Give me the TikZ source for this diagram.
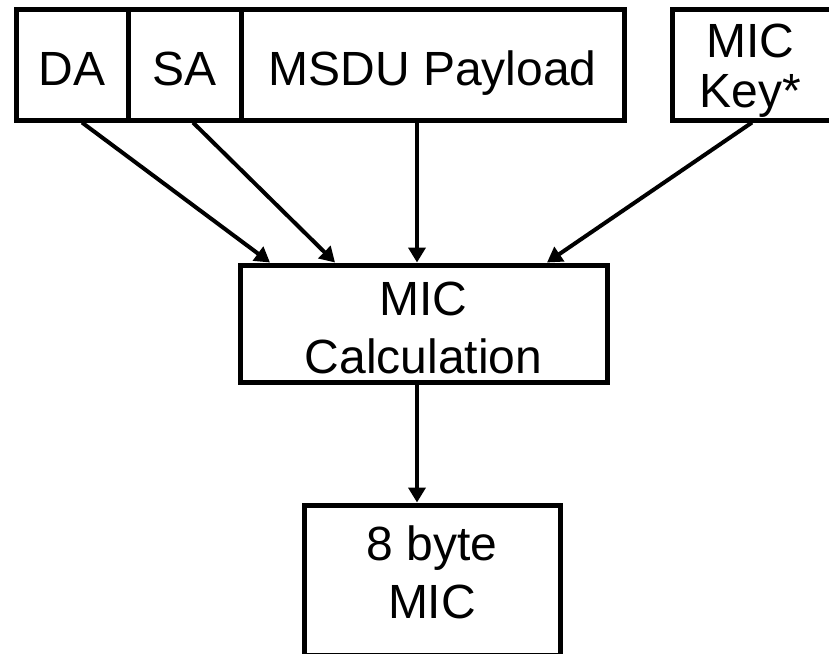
\documentclass[tikz,border=0pt]{standalone}
\usepackage{fontspec}
\setmainfont{Liberation Sans}
\usetikzlibrary{arrows.meta}
\newcommand{\twolines}[2]{\begin{tabular}[b]{@{}c@{}}#1\\#2\end{tabular}}
\begin{document}
\begin{tikzpicture}[x=1pt,y=-1pt,
  box/.style={draw=black,line width=5pt,rectangle,inner sep=0pt,text depth=0pt,
    font=\fontsize{48}{58}\selectfont},
  conn/.style={line width=4pt,-{Triangle[length=15pt,width=17pt]}}]
\useasboundingbox (0,0) rectangle (829,653);
\clip (0,0) rectangle (829,653);
\node[box,minimum width=112pt,minimum height=110.5pt,text height=40.5pt] (da) at (72,64.75) {DA};
\node[box,minimum width=113pt,minimum height=110.5pt,text height=40.5pt] (sa) at (184.5,64.75) {SA};
\node[box,minimum width=383pt,minimum height=110.5pt,text height=40.5pt] (msdu) at (432.5,64.75) {MSDU Payload};
\node[box,minimum width=168pt,minimum height=110.5pt,text height=84.5pt,font=\fontsize{48}{50}\selectfont] (key) at (756,64.75) {\twolines{MIC}{Key*}\hspace*{12pt}};
\node[box,minimum width=367pt,minimum height=117pt,text height=99pt] (calc) at (423.5,323.5) {\twolines{MIC}{Calculation}};
\node[box,minimum width=256pt,minimum height=150pt,text height=76pt] (mic) at (432,580) {\twolines{8 byte}{MIC}};
\draw[conn] ([xshift=10pt]da.south) -- ([xshift=-153.5pt]calc.north);
\draw[conn] ([xshift=8.5pt]sa.south) -- ([xshift=-88.5pt]calc.north);
\draw[conn] ([xshift=-15.5pt]msdu.south) -- ([xshift=-6.5pt]calc.north);
\draw[conn] ([xshift=-4pt]key.south) -- ([xshift=123.5pt]calc.north);
\draw[conn] ([xshift=-6.5pt]calc.south) -- ([xshift=-15pt]mic.north);
\end{tikzpicture}
\end{document}
